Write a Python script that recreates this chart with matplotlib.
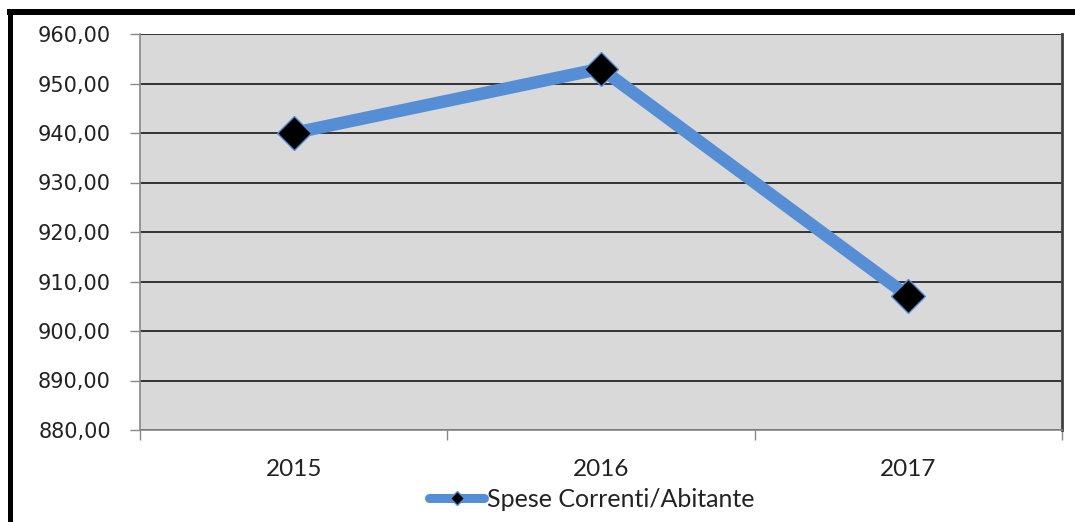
import matplotlib.pyplot as plt
from matplotlib.patches import Rectangle
from matplotlib.ticker import FixedLocator, FuncFormatter

# data
years = ["2015", "2016", "2017"]
spese = [940.0, 953.0, 907.0]
yticks = [880, 890, 900, 910, 920, 930, 940, 950, 960]

fig = plt.figure(figsize=(10.75, 5.22), dpi=100)
fig.patch.set_facecolor("white")

# black frame on top and left of the picture
W, H = 1075.0, 522.0
fig.patches.append(Rectangle((7 / W, 1 - 15 / H), 1 - 7 / W, 6 / H, transform=fig.transFigure,
                             facecolor="black", edgecolor="none", zorder=0))
fig.patches.append(Rectangle((8 / W, 0), 5 / W, 1 - 13 / H, transform=fig.transFigure,
                             facecolor="black", edgecolor="none", zorder=0))

ax = fig.add_axes([140 / W, 1 - 430 / H, (1062 - 140) / W, (430 - 34) / H])
ax.set_facecolor("#d9d9d9")

x = list(range(len(years)))
ax.plot(x, spese, color="#558ed5", lw=9, solid_capstyle="butt", zorder=3,
        marker="D", markersize=17.5, markerfacecolor="black",
        markeredgecolor="#558ed5", markeredgewidth=1.0, label="Spese Correnti/Abitante")

ax.set_ylim(880, 960)
ax.set_xlim(-0.5, 2.5)
ax.set_yticks(yticks)
ax.yaxis.set_major_formatter(FuncFormatter(lambda v, p: f"{v:.2f}".replace(".", ",")))
ax.yaxis.grid(True, color="#262626", lw=1.3)
ax.set_axisbelow(True)

ax.set_xticks(x)
ax.set_xticklabels(years, fontfamily="Lato", fontsize=17.5, color="#222222")
ax.xaxis.set_minor_locator(FixedLocator([-0.5, 0.5, 1.5, 2.5]))
ax.tick_params(axis="x", which="major", length=0, pad=21)
ax.tick_params(axis="x", which="minor", length=7, color="#888888", width=1)
ax.tick_params(axis="y", length=7, color="#888888", width=1, pad=14)
for lab in ax.get_yticklabels():
    lab.set_fontsize(15)
    lab.set_color("#222222")

for s in ("left", "bottom"):
    ax.spines[s].set_color("#888888")
    ax.spines[s].set_linewidth(1.2)
ax.spines["top"].set_visible(False)
ax.spines["right"].set_color("#404040")
ax.spines["right"].set_linewidth(2)

leg = ax.legend(loc="center", bbox_to_anchor=(0.49, -0.175), frameon=False,
                prop={"family": "Lato", "size": 18}, handlelength=2.2,
                handletextpad=0.1, markerscale=0.4)
for t in leg.get_texts():
    t.set_color("#222222")
for h in leg.legend_handles:
    h.set_linewidth(6.5)
    h.set_solid_capstyle("round")

fig.savefig("out.png", dpi=100, facecolor="white")
